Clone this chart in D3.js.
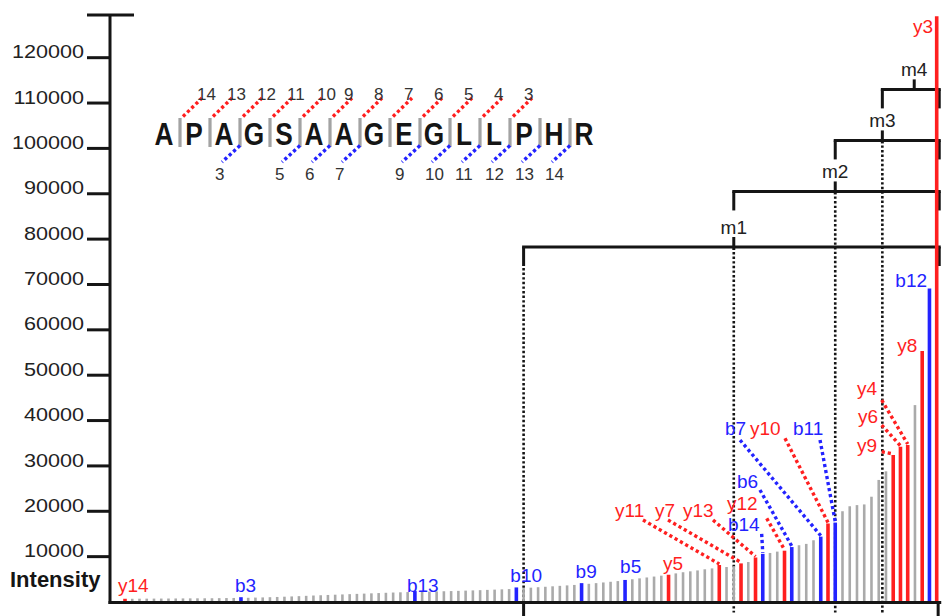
<!DOCTYPE html>
<html><head><meta charset="utf-8">
<script src="https://cdn.jsdelivr.net/npm/d3@7"></script>
<style>
html,body{margin:0;padding:0;background:#fff;}
svg{display:block;font-family:"Liberation Sans",Arial,Helvetica,sans-serif;}
</style></head><body>
<svg id="chart" width="947" height="616"></svg>
<script>
// ---------------- DATA ----------------
// Fragment intensities, sorted ascending (one per peak)
const intensities = [
  600, 600, 620, 630, 640, 650, 660, 670, 680, 690,
  700, 710, 720, 740, 760, 780, 950, 820, 860, 900,
  950, 1000, 1060, 1120, 1180, 1250, 1320, 1380, 1440, 1500,
  1560, 1620, 1680, 1740, 1800, 1860, 1920, 1980, 2030, 2080,
  2300, 2130, 2180, 2220, 2260, 2300, 2350, 2400, 2450, 2500,
  2560, 2620, 2680, 2740, 3100, 2950, 3050, 3150, 3250, 3350,
  3450, 3550, 3650, 4050, 3900, 4050, 4200, 4350, 4500, 4750,
  4900, 5100, 5300, 5500, 5700, 5900, 6200, 6450, 6650, 6850,
  7100, 7300, 8050, 7600, 7800, 8400, 8700, 9700, 10500, 10700,
  11000, 11200, 12000, 12400, 12700, 13500, 14300, 17200, 17400, 19900,
  21000, 21250, 21400, 23100, 26800, 28700, 32300, 34100, 34500, 43300,
  55200, 69000, 129000
];
// Identified ions and the peak each one labels
const ionNames = ["y14","b3","b13","b10","b9","b5","y5","y11","y7","y13","b14","y12","b6","b7","y10","b11","y9","y6","y4","y8","b12","y3"];
const ionPeaks = [0,16,40,54,63,69,75,82,85,87,88,91,92,96,97,98,106,107,108,110,111,112];
// Y axis
const yTicks = [10000,20000,30000,40000,50000,60000,70000,80000,90000,100000,110000,120000];
const yAxisMax = 129300;
// Peptide sequence and fragment sites
const residues = ["A","P","A","G","S","A","A","G","E","G","L","L","P","H","R"];
const yIonNumbers = [14,13,12,11,10,9,8,7,6,5,4,3];
const bIonNumbers = [3,5,6,7,9,10,11,12,13,14];
// Precursor-mass brackets (intensity level, starting peak) and markers
const bracketLevels = [78150, 90400, 101650, 112900];
const bracketStarts = [55, 84, 98, 104.5];
const markerNames = ["m1","m2","m3","m4"];
const markerPeaks = [84, 98, 104.5, 108.9];
const bracketEnd = 112.35;

// ---------------- LAYOUT ----------------
const RED = "#ff1f1f", BLUE = "#2323ff", GRAY = "#aaaaaa", INK = "#151515";
const svg = d3.select("#chart");
const axisX = 110;
const x = d3.scaleLinear().domain([0, intensities.length - 1]).range([125, 936.7]);
const y = d3.scaleLinear().domain([0, yAxisMax]).range([601.5, 15]);
const ionOf = new Map(ionPeaks.map((p, i) => [p, ionNames[i]]));
const colorOf = name => name[0] === "y" ? RED : BLUE;

// label placement (pixel offsets from the peak top)
const labelLayout = {
  y14:{dx:-7,dy:-7}, b3:{dx:-6,dy:-5.5}, b13:{dx:-8,dy:0.6}, b10:{dx:-6,dy:-5.7},
  b9:{dx:-6,dy:-4.8}, b5:{dx:-5,dy:-6.7}, y5:{dx:-5.5,dy:-4.7},
  y11:{dx:-104.3,dy:-48.3,lx:-76.3,ly:-45},
  y7:{dx:-86,dy:-46.7,lx:-73,ly:-43.4},
  y13:{dx:-72.5,dy:-40.8,lx:-42.5,ly:-37.5},
  b14:{dx:-34.8,dy:-22.6,lx:-1.1,ly:-20},
  y12:{dx:-57.5,dy:-40.2,lx:-17.8,ly:-32.4},
  b6:{dx:-54.8,dy:-58.8,lx:-31.8,ly:-57.1},
  b7:{dx:-95.7,dy:-101.6,lx:-80.7,ly:-96.6},
  y10:{dx:-78,dy:-88.5,lx:-43,ly:-85.2},
  b11:{dx:-42.2,dy:-87.6,lx:-15.2,ly:-82.6},
  y9:{dx:-36.2,dy:-3.3,lx:-11.5,ly:-3.3},
  y6:{dx:-42.5,dy:-23.8,lx:-18.8,ly:-21.8},
  y4:{dx:-50.7,dy:-50,lx:-26,ly:-45},
  y8:{dx:-5,dy:0.6,anchor:"end"},
  b12:{dx:-2.4,dy:-1.2,anchor:"end"},
  y3:{dx:-3.7,dy:17,anchor:"end"}
};

// ---------------- BRACKETS ----------------
const gBr = svg.append("g").attr("stroke", INK).attr("fill", "none");
bracketLevels.forEach((lv, k) => {
  const ly = y(lv), x0 = x(bracketStarts[k]), x1 = x(bracketEnd);
  gBr.append("line").attr("x1", x0 - 1.5).attr("x2", x1 + 1.5).attr("y1", ly).attr("y2", ly).attr("stroke-width", 3);
  gBr.append("line").attr("x1", x0).attr("x2", x0).attr("y1", ly).attr("y2", ly + 19).attr("stroke-width", 3);
  gBr.append("line").attr("x1", x1).attr("x2", x1).attr("y1", ly).attr("y2", ly + 19).attr("stroke-width", 3);
});
// first bracket's dotted drop to the baseline
gBr.append("line").attr("x1", x(bracketStarts[0])).attr("x2", x(bracketStarts[0]))
  .attr("y1", y(bracketLevels[0]) + 21).attr("y2", y(0))
  .attr("stroke-width", 2.6).attr("stroke-dasharray", "2.4,2.2");
// markers
markerNames.forEach((m, j) => {
  const mx = x(markerPeaks[j]), ly = y(bracketLevels[j]);
  gBr.append("line").attr("x1", mx).attr("x2", mx).attr("y1", ly - 10).attr("y2", j < 3 ? ly + 3 : ly).attr("stroke-width", 3);
  if (j < 3) {
    gBr.append("line").attr("x1", mx).attr("x2", mx).attr("y1", ly + 5).attr("y2", y(0) + 11)
      .attr("stroke-width", 2.6).attr("stroke-dasharray", "2.4,2.2");
  }
  svg.append("text").attr("x", mx).attr("y", ly - 13.5).attr("text-anchor", "middle")
    .attr("font-size", 19).attr("fill", "#222").text(m);
});

// ---------------- BARS ----------------
const bars = intensities.map((v, i) => ({i, v, ion: ionOf.get(i)}));
svg.append("g").selectAll("line").data(bars).join("line")
  .attr("x1", d => x(d.i)).attr("x2", d => x(d.i))
  .attr("y1", y(0)).attr("y2", d => y(d.v))
  .attr("stroke", d => d.ion ? colorOf(d.ion) : GRAY)
  .attr("stroke-width", d => d.ion ? 3.6 : 2.6);

// ---------------- AXES ----------------
const yAxis = d3.axisLeft(y).tickValues(yTicks).tickSize(23).tickPadding(3).tickFormat(d3.format("d"));
const gy = svg.append("g").attr("transform", `translate(${axisX},0)`).call(yAxis);
gy.attr("font-family", null).attr("font-size", 18);
gy.select(".domain").remove();
gy.selectAll(".tick line").attr("stroke", INK).attr("stroke-width", 3);
gy.selectAll(".tick text").attr("fill", "#222").attr("dy", 0.6)
  .attr("x", -26 / 1.2).attr("transform", "scale(1.2,1)");
// vertical axis line and top cap
svg.append("line").attr("x1", axisX).attr("x2", axisX).attr("y1", y(yAxisMax)).attr("y2", y(0) + 2.5)
  .attr("stroke", INK).attr("stroke-width", 3);
svg.append("line").attr("x1", axisX - 23).attr("x2", axisX + 24).attr("y1", y(yAxisMax)).attr("y2", y(yAxisMax))
  .attr("stroke", INK).attr("stroke-width", 3);
// baseline
svg.append("line").attr("x1", axisX - 1.5).attr("x2", x(bracketEnd) + 2).attr("y1", y(0) + 1).attr("y2", y(0) + 1)
  .attr("stroke", INK).attr("stroke-width", 3);
[bracketStarts[0], 112.2].forEach(p => {
  svg.append("line").attr("x1", x(p)).attr("x2", x(p)).attr("y1", y(0)).attr("y2", 616)
    .attr("stroke", INK).attr("stroke-width", 3);
});
svg.append("text").attr("x", 10).attr("y", 586.7).attr("font-size", 22).attr("font-weight", "bold")
  .attr("fill", INK).text("Intensity");

// ---------------- ION LABELS ----------------
const gLab = svg.append("g").attr("font-size", 19);
ionNames.forEach((name, k) => {
  const p = ionPeaks[k], bx = x(p), top = y(intensities[p]);
  const L = labelLayout[name], c = colorOf(name);
  if (L.lx !== undefined) {
    gLab.append("line").attr("x1", bx + L.lx).attr("y1", top + L.ly).attr("x2", bx).attr("y2", top - 1)
      .attr("stroke", c).attr("stroke-width", 3.4).attr("stroke-dasharray", "3.2,2.9");
  }
  gLab.append("text").attr("x", bx + L.dx).attr("y", top + L.dy)
    .attr("text-anchor", L.anchor || "start").attr("fill", c).text(name);
});

// ---------------- PEPTIDE ----------------
const px = d3.scalePoint().domain(d3.range(residues.length)).range([164, 584]);
const gPep = svg.append("g");
const siteX = k => (px(k) + px(k + 1)) / 2 + 1;
d3.range(residues.length - 1).forEach(k => {
  gPep.append("rect").attr("x", siteX(k) - 1.6).attr("y", 118).attr("width", 3.2).attr("height", 29).attr("fill", "#a3a3a3");
});
residues.forEach((r, i) => {
  gPep.append("text").attr("transform", `translate(${px(i)},145) scale(1.05,1.22)`)
    .attr("text-anchor", "middle").attr("font-size", 25).attr("font-weight", "bold").attr("fill", INK).text(r);
});
yIonNumbers.forEach((n, k) => {
  const sx = siteX(k);
  gPep.append("line").attr("x1", sx + 3).attr("y1", 116.5).attr("x2", sx + 22).attr("y2", 98)
    .attr("stroke", RED).attr("stroke-width", 3.4).attr("stroke-dasharray", "3.2,2.7");
  gPep.append("text").attr("x", sx + (n > 9 ? 17 : 14)).attr("y", 100).attr("font-size", 17).attr("fill", "#333").text(n);
});
bIonNumbers.forEach(n => {
  const sx = siteX(n - 1);
  gPep.append("line").attr("x1", sx).attr("y1", 145.5).attr("x2", sx - 18).attr("y2", 162)
    .attr("stroke", BLUE).attr("stroke-width", 3.4).attr("stroke-dasharray", "3.2,2.7");
  gPep.append("text").attr("x", sx - 25).attr("y", 180).attr("font-size", 17).attr("fill", "#333").text(n);
});
</script>
</body></html>
